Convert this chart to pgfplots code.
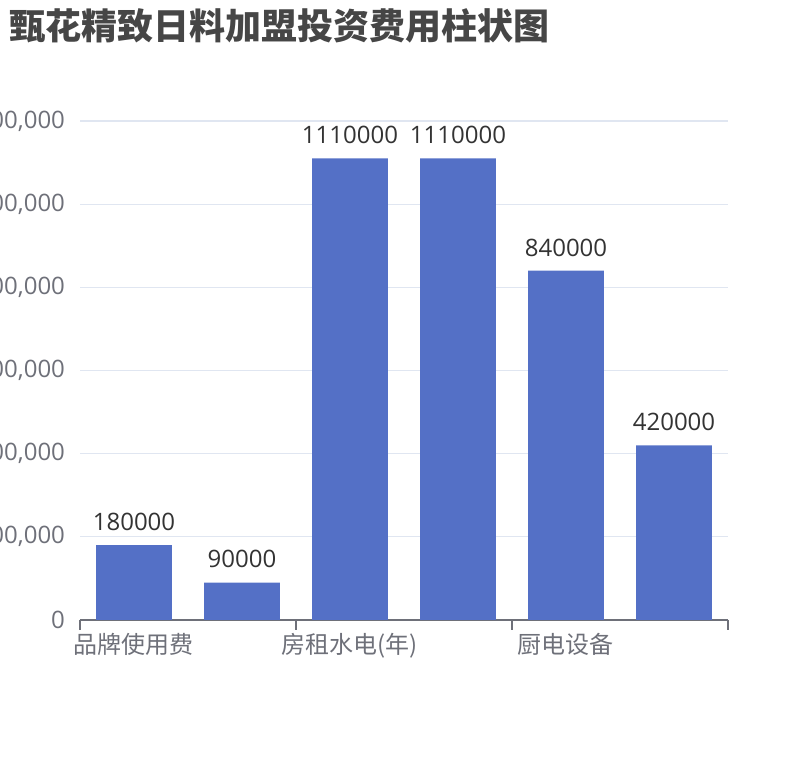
\documentclass[border=0pt]{standalone}
\usepackage{pgfplots}
\pgfplotsset{compat=1.18}
\usepackage{fontspec}
\setmainfont{Noto Sans CJK SC}
\newfontfamily\numfont{Open Sans}

\definecolor{barblue}{HTML}{5470C6}
\definecolor{gridc}{HTML}{E0E6F1}
\definecolor{axisc}{HTML}{6E7079}
\definecolor{valc}{HTML}{333333}
\definecolor{titlec}{HTML}{464646}

\begin{document}
\begin{tikzpicture}
  % page is 810x760 px at 0.5pt per px
  \path[use as bounding box] (0,0) rectangle (405pt,380pt);
  \node[anchor=west, text=titlec, font=\fontsize{18pt}{20pt}\selectfont\bfseries, inner sep=0pt]
    at (4.5pt,367pt) {甄花精致日料加盟投资费用柱状图};
  \begin{axis}[
      at={(40pt,70pt)}, anchor=south west,
      scale only axis,
      width=324pt, height=249.5pt,
      xmin=-0.5, xmax=5.5,
      ymin=0, ymax=1200000,
      axis x line*=bottom, axis y line*=left,
      x axis line style={draw=axisc, line width=1pt, -},
      y axis line style={draw=none},
      xtick={-0.5,1.5,3.5,5.5},
      xticklabels={,,,},
      major x tick style={draw=axisc, line width=1pt},
      tick align=outside,
      major tick length=5pt,
      extra x ticks={0,2,4},
      extra x tick labels={品牌使用费,房租水电(年),厨电设备},
      extra x tick style={major tick length=0pt, grid=none,
        xticklabel style={text=axisc, font=\fontsize{12pt}{14pt}\selectfont, yshift=-3pt}},
      ytick={0,200000,400000,600000,800000,1000000,1200000},
      scaled y ticks=false,
      yticklabel style={xshift=1pt, text=axisc, font=\fontsize{12pt}{14pt}\selectfont\numfont,
        /pgf/number format/.cd, fixed, precision=0, 1000 sep={,}, assume math mode=true},
      major y tick style={draw=none},
      ymajorgrids=true,
      grid style={draw=gridc, line width=0.65pt},
      clip=false,
    ]
    \addplot[ybar, bar width=0.7, fill=barblue, draw=none,
      point meta=explicit symbolic,
      nodes near coords,
      every node near coord/.append style={text=valc, font=\fontsize{12pt}{14pt}\selectfont\numfont, inner sep=0pt, yshift=7pt}]
      coordinates {
        (0,180000) [180000]
        (1,90000) [90000]
        (2,1110000) [1110000]
        (3,1110000) [1110000]
        (4,840000) [840000]
        (5,420000) [420000]
      };
  \end{axis}
\end{tikzpicture}
\end{document}
